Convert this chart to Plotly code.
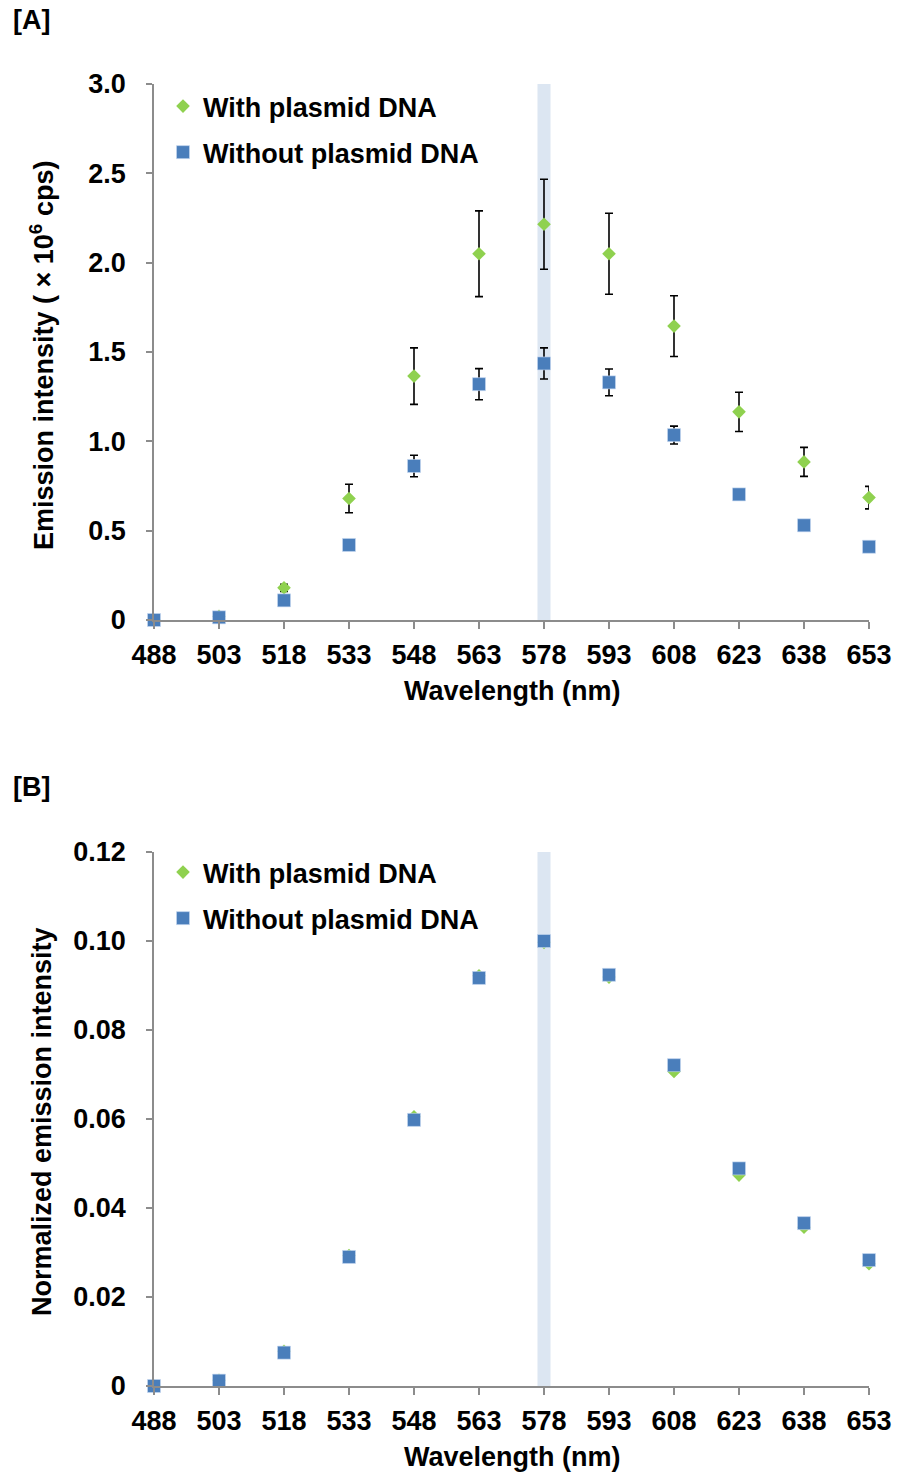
import plotly.graph_objects as go

# ---------------- data ----------------
wavelengths = [488, 503, 518, 533, 548, 563, 578, 593, 608, 623, 638, 653]
tick_labels_x = [str(w) for w in wavelengths]

# Panel A: emission intensity (x10^6 cps)
with_dna_A = [0.0, 0.02, 0.18, 0.68, 1.365, 2.05, 2.215, 2.05, 1.645, 1.165, 0.885, 0.685]
with_dna_A_err = [0.0, 0.005, 0.02, 0.08, 0.158, 0.24, 0.252, 0.227, 0.17, 0.11, 0.081, 0.063]
without_dna_A = [0.0, 0.015, 0.11, 0.42, 0.862, 1.32, 1.436, 1.33, 1.035, 0.703, 0.53, 0.41]
without_dna_A_err = [0.0, 0.005, 0.015, 0.02, 0.06, 0.087, 0.087, 0.075, 0.05, 0.02, 0.015, 0.01]

# Panel B: normalized emission intensity
with_dna_B = [0.0, 0.0013, 0.0078, 0.0293, 0.0605, 0.0922, 0.0997, 0.0919, 0.0707, 0.0474, 0.0357, 0.0275]
without_dna_B = [0.0, 0.0012, 0.0075, 0.029, 0.0598, 0.0917, 0.100, 0.0924, 0.0721, 0.0489, 0.0366, 0.0283]

yticks_A = [0, 0.5, 1.0, 1.5, 2.0, 2.5, 3.0]
yticklabels_A = ["0", "0.5", "1.0", "1.5", "2.0", "2.5", "3.0"]
yticks_B = [0, 0.02, 0.04, 0.06, 0.08, 0.10, 0.12]
yticklabels_B = ["0", "0.02", "0.04", "0.06", "0.08", "0.10", "0.12"]

highlight_center = 578
highlight_halfwidth = 1.5

# ---------------- styling ----------------
W, H = 898, 1474
FONT = "Liberation Sans, Arial, sans-serif"
FS = 27
GREEN = "#8fd14f"
BLUE = "#4a7ebb"
AXIS = "#8c8c8c"
bold_font = dict(family=FONT, size=FS, color="black", weight="bold")


def px_x(p):
    return p / W


def px_y(p):
    return 1 - p / H


fig = go.Figure()

# Panel A traces
fig.add_trace(go.Scatter(
    x=wavelengths, y=with_dna_A, mode="markers", name="With plasmid DNA",
    marker=dict(symbol="diamond", size=10.5, color=GREEN),
    error_y=dict(type="data", array=with_dna_A_err, color="black", thickness=1.6, width=4),
    xaxis="x", yaxis="y", legend="legend", legendgroup="a1", cliponaxis=False))
fig.add_trace(go.Scatter(
    x=wavelengths, y=without_dna_A, mode="markers", name="Without plasmid DNA",
    marker=dict(symbol="square", size=13, color=BLUE, line=dict(width=0.6, color="#c6d9f1")),
    error_y=dict(type="data", array=without_dna_A_err, color="black", thickness=1.6, width=4),
    xaxis="x", yaxis="y", legend="legend", legendgroup="a2", cliponaxis=False))

# Panel B traces
fig.add_trace(go.Scatter(
    x=wavelengths, y=with_dna_B, mode="markers", name="With plasmid DNA",
    marker=dict(symbol="diamond", size=10.5, color=GREEN),
    xaxis="x2", yaxis="y2", legend="legend2", legendgroup="b1", cliponaxis=False))
fig.add_trace(go.Scatter(
    x=wavelengths, y=without_dna_B, mode="markers", name="Without plasmid DNA",
    marker=dict(symbol="square", size=13, color=BLUE, line=dict(width=0.6, color="#c6d9f1")),
    xaxis="x2", yaxis="y2", legend="legend2", legendgroup="b2", cliponaxis=False))

xdom = [px_x(154), px_x(869)]
domA = [px_y(620), px_y(84)]
domB = [px_y(1386), px_y(852)]

xaxis_common = dict(
    range=[wavelengths[0], wavelengths[-1]], tickmode="array", tickvals=wavelengths,
    ticktext=tick_labels_x, showline=True, linecolor=AXIS, linewidth=1.5,
    ticks="outside", ticklen=7, tickcolor=AXIS, tickwidth=1.5, showgrid=False,
    zeroline=False, tickfont=bold_font, domain=xdom, fixedrange=True,
    automargin=False, ticklabelstandoff=3)
yaxis_common = dict(
    showline=True, linecolor=AXIS, linewidth=1.5, ticks="outside", ticklen=6,
    tickcolor=AXIS, tickwidth=1.5, showgrid=False, zeroline=False,
    tickfont=bold_font, ticklabelstandoff=15, automargin=False, fixedrange=True)

legend_common = dict(xanchor="left", yanchor="top", font=bold_font,
                     bgcolor="rgba(0,0,0,0)", tracegroupgap=8, itemclick=False,
                     itemdoubleclick=False)

fig.update_layout(
    width=W, height=H, autosize=False,
    margin=dict(l=0, r=0, t=0, b=0),
    paper_bgcolor="white", plot_bgcolor="white",
    xaxis=dict(**xaxis_common, anchor="y"),
    yaxis=dict(**yaxis_common, domain=domA, range=[0, 3.0], tickmode="array",
               tickvals=yticks_A, ticktext=yticklabels_A, anchor="x"),
    xaxis2=dict(**xaxis_common, anchor="y2"),
    yaxis2=dict(**yaxis_common, domain=domB, range=[0, 0.12], tickmode="array",
                tickvals=yticks_B, ticktext=yticklabels_B, anchor="x2"),
    legend=dict(x=px_x(163), y=px_y(82), **legend_common),
    legend2=dict(x=px_x(163), y=px_y(848), **legend_common),
    showlegend=True,
)

# highlight bands
for xr, yr, top in (("x", "y", 3.0), ("x2", "y2", 0.12)):
    fig.add_shape(type="rect", xref=xr, yref=yr,
                  x0=highlight_center - highlight_halfwidth, x1=highlight_center + highlight_halfwidth,
                  y0=0, y1=top, fillcolor="#dce6f2", line=dict(width=0), layer="below")

annotations = [
    dict(text="[A]", x=px_x(11), y=px_y(20), xanchor="left", yanchor="middle"),
    dict(text="[B]", x=px_x(11), y=px_y(787), xanchor="left", yanchor="middle"),
    dict(text="Wavelength (nm)", x=px_x(512), y=px_y(691), xanchor="center", yanchor="middle"),
    dict(text="Wavelength (nm)", x=px_x(512), y=px_y(1457), xanchor="center", yanchor="middle"),
    dict(text="Emission intensity ( × 10<sup>6</sup> cps)", x=px_x(42), y=px_y(356),
         xanchor="center", yanchor="middle", textangle=-90),
    dict(text="Normalized emission intensity", x=px_x(42), y=px_y(1122),
         xanchor="center", yanchor="middle", textangle=-90),
]
for a in annotations:
    fig.add_annotation(xref="paper", yref="paper", showarrow=False, font=bold_font, **a)

fig.write_html("out.html")
